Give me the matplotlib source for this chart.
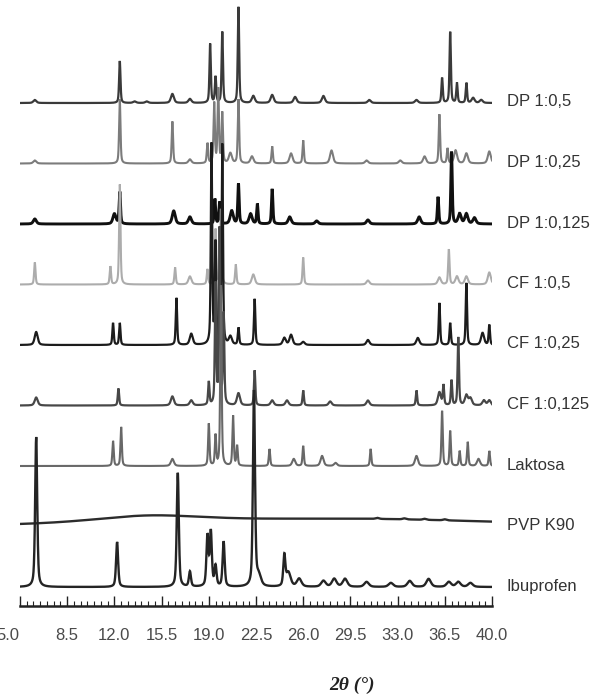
import numpy as np
import matplotlib.pyplot as plt
from matplotlib.transforms import ScaledTranslation

plt.rcParams['font.family'] = ['Liberation Sans', 'DejaVu Sans']

# samples, top to bottom
labels = ['DP 1:0,5', 'DP 1:0,25', 'DP 1:0,125', 'CF 1:0,5', 'CF 1:0,25',
          'CF 1:0,125', 'Laktosa', 'PVP K90', 'Ibuprofen']
colors = ['#3a3a3a', '#7c7c7c', '#101010', '#acacac', '#1c1c1c',
          '#474747', '#686868', '#2c2c2c', '#242424']

# peak positions (2theta, deg) and relative intensities
dp05_pos = [6.1, 12.4, 13.5, 14.4, 16.3, 17.6, 19.1, 19.5, 20.0, 21.2, 22.3, 23.7, 25.4,
            27.5, 30.9, 34.4, 36.3, 36.9, 37.4, 38.1, 38.6, 39.2]
dp05_int = [3, 42, 1.5, 1.5, 9, 4, 59, 26, 71, 96, 7, 8, 6,
            7, 3, 3, 25, 71, 20, 20, 5, 3]

dp025_pos = [6.1, 12.4, 16.3, 17.6, 18.9, 19.4, 19.7, 20.0, 20.6, 21.2, 22.2, 23.7, 25.1,
             26.0, 28.1, 30.7, 33.2, 35.0, 36.1, 36.7, 37.3, 38.1, 39.8]
dp025_int = [3, 64, 42, 4, 20, 60, 74, 50, 10, 64, 7, 17, 10,
             23, 13, 3, 3, 7, 49, 15, 13, 10, 12]

dp0125_pos = [6.1, 12.0, 12.4, 16.4, 17.6, 19.45, 19.8, 20.7, 21.2, 22.1, 22.6, 23.7, 25.0,
              27.0, 30.8, 34.6, 36.0, 37.0, 37.6, 38.1, 38.7]
dp0125_int = [5, 10, 32, 13, 7, 25, 22, 13, 40, 10, 20, 35, 7,
              3, 4, 7, 27, 72, 10, 10, 6]

cf05_pos = [6.1, 11.7, 12.4, 16.5, 17.6, 18.9, 19.5, 19.9, 21.0, 22.3, 26.0, 30.8,
            36.1, 36.8, 37.4, 38.1, 39.8]
cf05_int = [22, 18, 100, 17, 8, 15, 55, 75, 20, 10, 27, 4,
            7, 35, 8, 8, 12]

cf025_pos = [6.2, 11.9, 12.4, 16.6, 17.7, 19.2, 19.5, 20.0, 20.6, 21.2, 22.4, 24.6, 25.1,
             26.0, 30.8, 34.5, 36.1, 36.9, 38.1, 39.3, 39.8]
cf025_int = [13, 22, 22, 47, 11, 200, 100, 200, 8, 17, 46, 7, 10,
             3, 5, 7, 42, 22, 62, 12, 20]

cf0125_pos = [6.2, 12.3, 16.3, 17.7, 19.0, 19.5, 19.8, 20.1, 21.2, 22.4, 23.7, 24.8,
              26.0, 28.0, 30.8, 34.4, 36.1, 36.4, 37.0, 37.5, 38.1, 38.4, 39.4, 39.8]
cf0125_int = [8, 17, 9, 5, 23, 120, 175, 90, 12, 35, 5, 5,
              15, 4, 5, 15, 13, 20, 25, 68, 10, 7, 5, 5]

lak_pos = [11.9, 12.5, 16.3, 19.0, 19.5, 19.9, 20.8, 21.1, 23.5, 25.3, 26.0, 27.4, 28.4,
           31.0, 34.4, 36.3, 36.9, 37.6, 38.2, 39.0, 39.8]
lak_int = [25, 39, 7, 42, 30, 180, 50, 20, 17, 7, 20, 10, 3,
           17, 10, 55, 35, 15, 24, 7, 15]

# PVP is amorphous: two broad halos plus a few faint bumps
pvp_pos = [14.5, 29.0, 31.5, 33.5, 35.0, 36.5]
pvp_int = [7.5, 7.5, 1, 1, 1, 1]
pvp_fwhm = [10, 28, 0.3, 0.3, 0.3, 0.3]

ibu_pos = [6.2, 12.2, 16.7, 17.6, 18.9, 19.15, 19.5, 20.1, 22.35, 22.7, 24.6, 24.9, 25.7,
           27.5, 28.3, 29.1, 30.7, 32.5, 33.9, 35.3, 36.8, 37.5, 38.4]
ibu_int = [150, 45, 114, 15, 50, 54, 20, 45, 195, 10, 30, 14, 8,
           6, 8, 8, 5, 4, 6, 8, 5, 5, 4]

positions = [dp05_pos, dp025_pos, dp0125_pos, cf05_pos, cf025_pos, cf0125_pos,
             lak_pos, pvp_pos, ibu_pos]
intensities = [dp05_int, dp025_int, dp0125_int, cf05_int, cf025_int, cf0125_int,
               lak_int, pvp_int, ibu_int]
line_w = [1.6, 1.5, 2.1, 1.5, 1.6, 1.6, 1.5, 1.7, 1.7]

two_theta = np.linspace(5, 40, 3501)


def pattern(pos, inten, fwhm=None, base_w=0.12):
    y = np.zeros_like(two_theta)
    for k, (p, h) in enumerate(zip(pos, inten)):
        if fwhm is not None:
            w = fwhm[k]
        else:
            w = base_w if h >= 15 else 2.2 * base_w
        sig = w / 2.355
        g = np.exp(-(two_theta - p) ** 2 / (2 * sig ** 2))
        l = 1 / (1 + (2 * (two_theta - p) / w) ** 2)
        y += h * (0.5 * g + 0.5 * l)
    return y


fig = plt.figure(figsize=(5.92, 6.97), dpi=100)
ax = fig.add_axes([20 / 592, 91 / 697, 472 / 592, 606 / 697])

spacing = 60.5
n = len(labels)
for i, (lab, col) in enumerate(zip(labels, colors)):
    off = 19 + (n - 1 - i) * spacing
    if lab == 'PVP K90':
        y = pattern(positions[i], intensities[i], fwhm=pvp_fwhm)
    elif lab == 'Ibuprofen':
        y = pattern(positions[i], intensities[i], base_w=0.18)
    else:
        y = pattern(positions[i], intensities[i])
    ax.plot(two_theta, y + off, color=col, lw=line_w[i], solid_joinstyle='miter')
    ax.text(41.1, off + 1, lab, ha='left', va='center', fontsize=12,
            color='#333333', clip_on=False)

ax.set_xlim(5, 40)
ax.set_ylim(0, 606)
for s in ['top', 'right', 'left']:
    ax.spines[s].set_visible(False)
ax.spines['bottom'].set_linewidth(1.8)
ax.spines['bottom'].set_color('#222222')
ax.set_yticks([])

major = np.arange(5, 40.01, 3.5)
ax.set_xticks(major)
ax.set_xticks(np.arange(5, 40.01, 0.5), minor=True)
ax.set_xticklabels([f'{v:.1f}' for v in major])
ax.tick_params(axis='x', which='major', direction='in', length=7, width=1.0,
               color='#222222', pad=16, labelsize=12, labelcolor='#4a4a4a')
ax.tick_params(axis='x', which='minor', direction='in', length=3.5, width=0.8,
               color='#222222')

# first label sits partly off the left edge in the original
first = ax.get_xticklabels()[0]
first.set_transform(first.get_transform() + ScaledTranslation(-0.12, 0, fig.dpi_scale_trans))

fig.text(352 / 592, 1 - 685 / 697, '2θ (°)', ha='center', va='center',
         fontsize=14, fontweight='bold', fontstyle='italic',
         family=['Liberation Serif', 'DejaVu Serif'], color='#222222')

fig.savefig('out.png', dpi=100)
